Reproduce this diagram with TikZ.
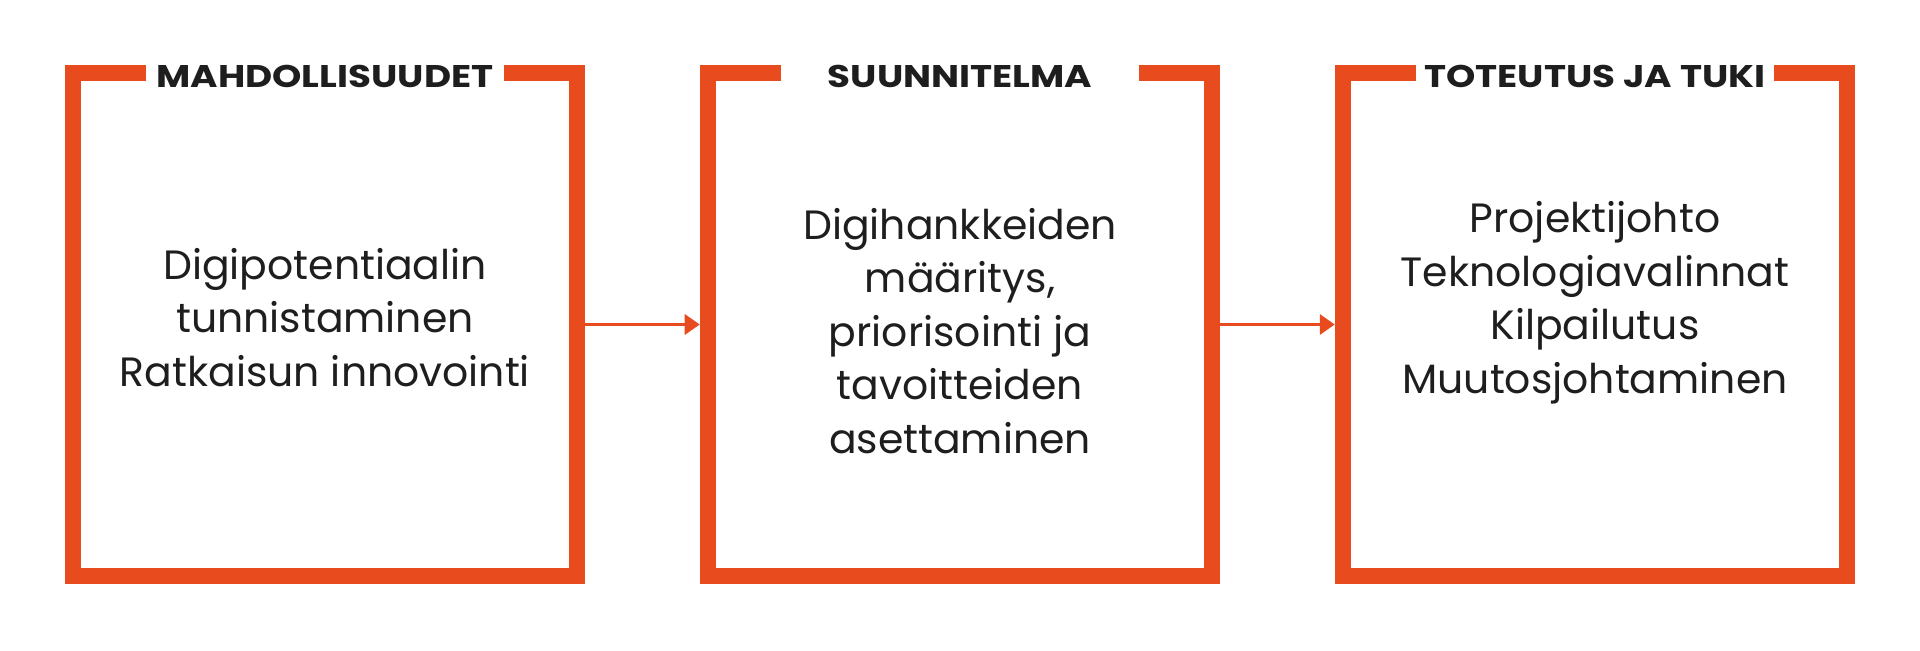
\documentclass[tikz,border=0pt]{standalone}
\usepackage{fontspec}
\setmainfont{Poppins}
\newfontfamily\titlefont[FakeStretch=1.19]{Poppins Bold}
\usetikzlibrary{arrows.meta}
\definecolor{frameorange}{RGB}{232,76,30}
\definecolor{txtdark}{RGB}{30,30,30}
\begin{document}
\begin{tikzpicture}[x=0.75pt,y=-0.75pt,
  boxarea/.style={rectangle,draw=none,inner sep=0pt,minimum width=390pt,minimum height=389.25pt},
  frame/.style={draw=frameorange,line width=12pt,line join=miter},
  titletext/.style={anchor=base,inner sep=0pt,text=txtdark,font=\fontsize{23.5}{28}\titlefont},
  bodytext/.style={anchor=base,inner sep=0pt,align=center,text=txtdark,font=\fontsize{30.7}{40.1}\selectfont},
  arr/.style={draw=frameorange,line width=2.6pt,-{Triangle[length=11.25pt,width=15pt]}}]
\useasboundingbox[fill=white] (0,0) rectangle (1920,650);
% boxes (outer extents)
\node[boxarea] (b1) at (325,324.5) {};
\node[boxarea] (b2) at (960,324.5) {};
\node[boxarea] (b3) at (1595,324.5) {};
% frames with gap for titles
\foreach \b in {b1,b2,b3}{
  \draw[frame] ([shift={(-179,8)}]\b.north) -| ([shift={(8,-8)}]\b.south west)
     -| ([shift={(-8,8)}]\b.north east) -- ([shift={(179,8)}]\b.north);
}
% titles
\node[titletext] (t1) at (325,87) {MAHDOLLISUUDET};
\node[titletext] (t2) at (960,87) {SUUNNITELMA};
\node[titletext] (t3) at (1595,87) {TOTEUTUS JA TUKI};
% body texts (base anchor = last line baseline)
\node[bodytext] (x1) at (325,386) {Digipotentiaalin\\tunnistaminen\\Ratkaisun innovointi};
\node[bodytext] (x2) at (960,453) {Digihankkeiden\\määritys,\\priorisointi ja\\tavoitteiden\\asettaminen};
\node[bodytext] (x3) at (1595,393) {Projektijohto\\Teknologiavalinnat\\Kilpailutus\\Muutosjohtaminen};
% arrows
\draw[arr] (b1.east) -- (b2.west);
\draw[arr] (b2.east) -- (b3.west);
\end{tikzpicture}
\end{document}
